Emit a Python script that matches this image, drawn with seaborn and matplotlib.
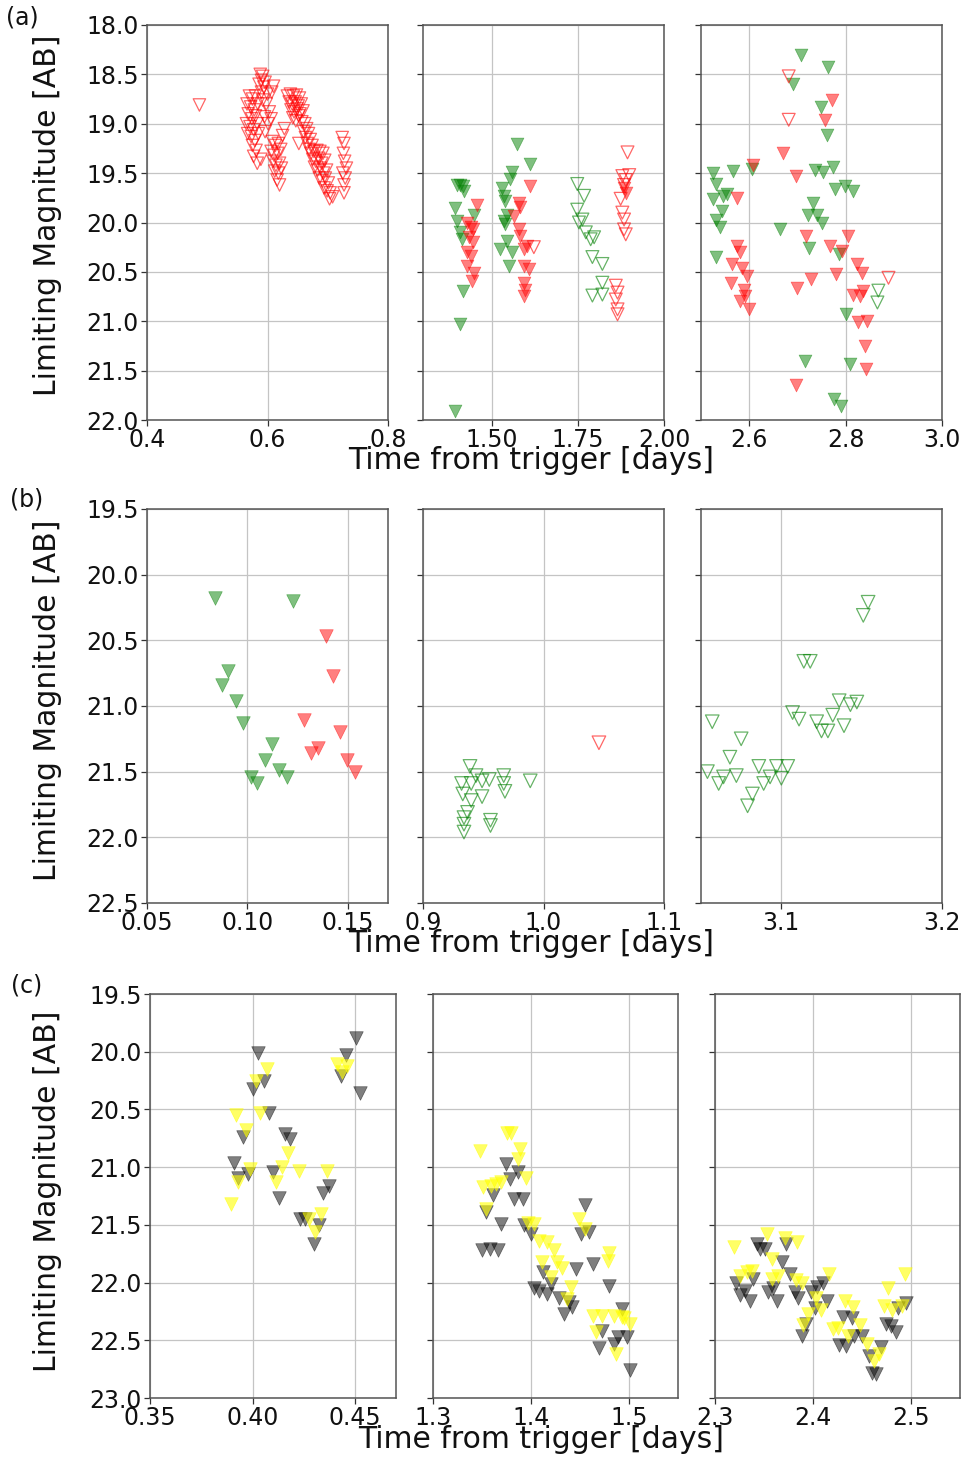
import matplotlib
matplotlib.use("Agg")
import matplotlib.pyplot as plt
import seaborn as sns

# ---------------- Row (a) ----------------
# panel a1 : open red limits
a1_red_open_t = [0.487,
                 0.588, 0.592, 0.590, 0.586, 0.594, 0.590, 0.596,
                 0.570, 0.575, 0.580, 0.566, 0.572, 0.578, 0.584, 0.568, 0.574, 0.580, 0.565, 0.571,
                 0.577, 0.583, 0.567, 0.573, 0.579, 0.585, 0.575, 0.581, 0.577, 0.583, 0.589,
                 0.592, 0.598, 0.600, 0.603, 0.595, 0.601, 0.606, 0.596, 0.610, 0.607,
                 0.608, 0.613, 0.618, 0.606, 0.611, 0.617, 0.622, 0.609, 0.614, 0.620, 0.612, 0.618,
                 0.623, 0.616, 0.620, 0.625, 0.628,
                 0.633, 0.638, 0.643, 0.648, 0.653, 0.636, 0.641, 0.646, 0.651, 0.656, 0.639, 0.644,
                 0.649, 0.654, 0.659, 0.642, 0.647, 0.652,
                 0.657, 0.662, 0.665, 0.660, 0.668, 0.663, 0.671, 0.666, 0.674, 0.669, 0.652,
                 0.672, 0.677, 0.682, 0.687, 0.692, 0.675, 0.680, 0.685, 0.690, 0.695, 0.678, 0.683,
                 0.688, 0.693, 0.698, 0.686, 0.691, 0.696, 0.701, 0.694, 0.699, 0.704, 0.708, 0.703,
                 0.724, 0.727, 0.726, 0.728, 0.731, 0.725, 0.729, 0.727, 0.727]
a1_red_open_m = [18.81,
                 18.50, 18.52, 18.56, 18.60, 18.63, 18.68, 18.58,
                 18.72, 18.75, 18.72, 18.80, 18.83, 18.86, 18.80, 18.90, 18.95, 18.92, 19.00, 19.03,
                 19.06, 19.00, 19.10, 19.13, 19.17, 19.10, 19.22, 19.27, 19.33, 19.40, 19.36,
                 18.76, 18.80, 18.70, 18.88, 18.93, 19.00, 18.95, 19.08, 18.62, 18.68,
                 19.18, 19.22, 19.20, 19.28, 19.32, 19.30, 19.26, 19.38, 19.42, 19.40, 19.48, 19.50,
                 19.45, 19.57, 19.62, 19.12, 19.05,
                 18.72, 18.70, 18.72, 18.71, 18.74, 18.78, 18.80, 18.78, 18.82, 18.80, 18.86, 18.88,
                 18.85, 18.90, 18.87, 18.94, 18.97, 18.92,
                 18.98, 19.00, 19.05, 19.08, 19.10, 19.14, 19.16, 19.20, 19.22, 19.26, 19.20,
                 19.30, 19.28, 19.27, 19.28, 19.30, 19.36, 19.38, 19.35, 19.40, 19.37, 19.44, 19.47,
                 19.45, 19.50, 19.47, 19.55, 19.58, 19.55, 19.60, 19.65, 19.68, 19.70, 19.74, 19.76,
                 19.14, 19.20, 19.30, 19.38, 19.45, 19.50, 19.55, 19.62, 19.70]

# panel a2
a2_green_fill_t = [1.398, 1.408, 1.417, 1.418, 1.393, 1.398, 1.447, 1.408, 1.412, 1.417, 1.408, 1.393,
                   1.529, 1.534, 1.539, 1.553, 1.558, 1.573, 1.612, 1.534, 1.539, 1.544, 1.544,
                   1.524, 1.558, 1.549]
a2_green_fill_m = [19.62, 19.62, 19.63, 19.68, 19.85, 19.98, 19.92, 20.10, 20.17, 20.69, 21.03, 21.91,
                   19.65, 19.73, 19.78, 19.56, 19.49, 19.21, 19.41, 19.98, 20.02, 19.92, 20.19,
                   20.27, 20.30, 20.44]
a2_red_fill_t = [1.456, 1.427, 1.440, 1.445, 1.435, 1.445, 1.427, 1.440, 1.427, 1.447, 1.442,
                 1.578, 1.583, 1.563, 1.578, 1.583, 1.602, 1.592, 1.592, 1.607, 1.592, 1.597, 1.592,
                 1.612, 1.884, 1.889]
a2_red_fill_m = [19.82, 20.00, 20.05, 20.07, 20.15, 20.20, 20.30, 20.34, 20.44, 20.51, 20.59,
                 19.80, 19.84, 19.93, 20.07, 20.14, 20.24, 20.27, 20.44, 20.47, 20.61, 20.68, 20.74,
                 19.63, 19.65, 19.70]
a2_red_open_t = [1.622, 1.894, 1.879, 1.889, 1.899, 1.884, 1.874, 1.879, 1.884, 1.884, 1.889,
                 1.860, 1.865, 1.860, 1.865, 1.865]
a2_red_open_m = [20.25, 19.29, 19.53, 19.57, 19.52, 19.62, 19.76, 19.90, 19.97, 20.07, 20.12,
                 20.64, 20.71, 20.78, 20.88, 20.93]
a2_green_open_t = [1.748, 1.768, 1.748, 1.763, 1.753, 1.773, 1.797, 1.787, 1.792, 1.821, 1.821,
                   1.792, 1.821]
a2_green_open_m = [19.61, 19.73, 19.87, 19.97, 20.00, 20.10, 20.15, 20.17, 20.35, 20.42, 20.61,
                   20.74, 20.73]

# panel a3
a3_green_fill_t = [2.707, 2.764, 2.690, 2.749, 2.761, 2.525, 2.531, 2.567, 2.605, 2.525, 2.546, 2.553,
                   2.543, 2.532, 2.539, 2.532, 2.664, 2.736, 2.754, 2.774, 2.778, 2.799, 2.816,
                   2.733, 2.723, 2.740, 2.752, 2.724, 2.786, 2.801, 2.716, 2.810, 2.776, 2.790]
a3_green_fill_m = [18.30, 18.43, 18.60, 18.83, 19.11, 19.50, 19.61, 19.48, 19.46, 19.76, 19.73, 19.71,
                   19.88, 19.97, 20.05, 20.35, 20.07, 19.47, 19.49, 19.44, 19.66, 19.63, 19.68,
                   19.80, 19.92, 19.92, 20.00, 20.26, 20.32, 20.93, 21.40, 21.43, 21.79, 21.86]
a3_red_fill_t = [2.771, 2.757, 2.671, 2.698, 2.608, 2.574, 2.574, 2.581, 2.564, 2.585, 2.596, 2.563,
                 2.589, 2.592, 2.581, 2.600, 2.718, 2.700, 2.729, 2.767, 2.781, 2.792, 2.806,
                 2.823, 2.833, 2.816, 2.830, 2.837, 2.826, 2.844, 2.840, 2.842, 2.697]
a3_red_fill_m = [18.76, 18.96, 19.30, 19.53, 19.42, 19.75, 20.24, 20.30, 20.42, 20.46, 20.54, 20.61,
                 20.68, 20.74, 20.79, 20.88, 20.14, 20.66, 20.57, 20.24, 20.52, 20.29, 20.14,
                 20.42, 20.51, 20.73, 20.74, 20.69, 21.01, 21.00, 21.25, 21.48, 21.65]
a3_red_open_t = [2.682, 2.682, 2.889]
a3_red_open_m = [18.52, 18.96, 20.56]
a3_green_open_t = [2.868, 2.866]
a3_green_open_m = [20.69, 20.81]

# ---------------- Row (b) ----------------
b1_green_fill_t = [0.0837, 0.1228, 0.0905, 0.0872, 0.0942, 0.0978, 0.1122, 0.1087, 0.1017, 0.1050,
                   0.1158, 0.1195]
b1_green_fill_m = [20.18, 20.20, 20.73, 20.84, 20.96, 21.13, 21.29, 21.41, 21.54, 21.59, 21.49, 21.54]
b1_red_fill_t = [0.1392, 0.1425, 0.1280, 0.1462, 0.1317, 0.1353, 0.1497, 0.1537]
b1_red_fill_m = [20.47, 20.77, 21.11, 21.20, 21.36, 21.32, 21.41, 21.50]

b2_green_open_t = [0.939, 0.944, 0.932, 0.933, 0.940, 0.949, 0.955, 0.967, 0.967, 0.968, 0.949, 0.940,
                   0.937, 0.934, 0.934, 0.934, 0.956, 0.956, 0.989]
b2_green_open_m = [21.46, 21.53, 21.59, 21.67, 21.59, 21.57, 21.56, 21.53, 21.59, 21.65, 21.69, 21.72,
                   21.81, 21.85, 21.90, 21.96, 21.87, 21.91, 21.57]
b2_red_open_t = [1.046]
b2_red_open_m = [21.28]

b3_green_open_t = [3.154, 3.151, 3.114, 3.118, 3.107, 3.111, 3.136, 3.143, 3.147, 3.132, 3.122, 3.125,
                   3.129, 3.139, 3.057, 3.075, 3.068, 3.054, 3.061, 3.064, 3.072, 3.086, 3.089, 3.093,
                   3.097, 3.104, 3.100, 3.082, 3.079]
b3_green_open_m = [20.21, 20.31, 20.66, 20.66, 21.05, 21.10, 20.96, 20.99, 20.97, 21.07, 21.12, 21.19,
                   21.19, 21.15, 21.12, 21.25, 21.39, 21.50, 21.59, 21.54, 21.53, 21.46, 21.59, 21.54,
                   21.46, 21.46, 21.55, 21.67, 21.76]

# ---------------- Row (c) ----------------
c1_black_t = [0.4028, 0.4000, 0.4056, 0.4080, 0.3954, 0.4159, 0.4184, 0.3908, 0.3929, 0.3979, 0.4102,
              0.4131, 0.4233, 0.4257, 0.4326, 0.4298, 0.4344, 0.4372, 0.4503, 0.4454, 0.4430, 0.4523]
c1_black_m = [20.01, 20.32, 20.25, 20.53, 20.74, 20.71, 20.76, 20.96, 21.09, 21.06, 21.04,
              21.27, 21.45, 21.45, 21.50, 21.67, 21.22, 21.16, 19.88, 20.03, 20.21, 20.36]
c1_yellow_t = [0.4069, 0.4016, 0.3918, 0.3967, 0.4039, 0.4172, 0.3987, 0.4143, 0.4115, 0.3931, 0.3897,
               0.4228, 0.4364, 0.4277, 0.4336, 0.4307, 0.4413, 0.4462, 0.4438]
c1_yellow_m = [20.15, 20.25, 20.55, 20.68, 20.53, 20.88, 21.02, 21.00, 21.13, 21.13, 21.32,
               21.03, 21.03, 21.45, 21.41, 21.56, 20.11, 20.12, 20.18]

c2_black_t = [1.3747, 1.3781, 1.3865, 1.3825, 1.3916, 1.3613, 1.3545, 1.3697, 1.3495, 1.3579, 1.3663,
              1.3933, 1.4000, 1.4125, 1.4034, 1.4084, 1.4168, 1.4209, 1.4286, 1.4337, 1.4387, 1.4421,
              1.4461, 1.4549, 1.4512, 1.4589, 1.4633, 1.4801, 1.4724, 1.4690, 1.4842, 1.4886, 1.4933,
              1.4976, 1.5010]
c2_black_m = [20.97, 21.10, 21.04, 21.28, 21.28, 21.24, 21.39, 21.49, 21.72, 21.71, 21.72,
              21.50, 21.58, 21.91, 22.05, 22.07, 22.10, 22.01, 22.13, 22.27, 22.17, 22.21,
              21.88, 21.33, 21.58, 21.56, 21.84, 22.03, 22.42, 22.57, 22.53, 22.47, 22.23,
              22.47, 22.76]
c2_yellow_t = [1.3478, 1.3791, 1.3760, 1.3892, 1.3865, 1.3949, 1.3512, 1.3596, 1.3697, 1.3640, 1.3545,
               1.3966, 1.4034, 1.4084, 1.4162, 1.4236, 1.4108, 1.4263, 1.4320, 1.4202, 1.4404, 1.4370,
               1.4488, 1.4556, 1.4791, 1.4781, 1.4633, 1.4724, 1.4842, 1.4926, 1.5010, 1.4663, 1.4869,
               1.4949]
c2_yellow_m = [20.86, 20.70, 20.70, 20.84, 20.93, 21.09, 21.17, 21.16, 21.13, 21.15, 21.36,
               21.48, 21.49, 21.64, 21.65, 21.72, 21.82, 21.82, 21.87, 21.95, 22.04, 22.14,
               21.45, 21.54, 21.74, 21.81, 22.29, 22.29, 22.29, 22.30, 22.36, 22.43, 22.62,
               22.31]

c3_black_t = [2.3428, 2.3461, 2.3512, 2.3724, 2.3680, 2.3219, 2.3253, 2.3310, 2.3354, 2.3387, 2.3545,
              2.3589, 2.3636, 2.3764, 2.3815, 2.3848, 2.3976, 2.4044, 2.4101, 2.4141, 2.4017, 2.3933,
              2.3892, 2.4310, 2.4397, 2.4421, 2.4505, 2.4263, 2.4337, 2.4572, 2.4690, 2.4606, 2.4640,
              2.4747, 2.4801, 2.4842, 2.4869, 2.4949]
c3_black_m = [21.67, 21.71, 21.71, 21.67, 21.82, 22.00, 22.11, 22.07, 22.16, 21.97, 22.08,
              22.05, 22.16, 21.93, 22.08, 22.13, 22.08, 22.04, 22.00, 22.16, 22.22, 22.36,
              22.46, 22.30, 22.31, 22.46, 22.46, 22.54, 22.55, 22.64, 22.56, 22.78, 22.79,
              22.36, 22.38, 22.43, 22.22, 22.18]
c3_yellow_t = [2.3192, 2.3529, 2.3717, 2.3838, 2.3579, 2.3253, 2.3327, 2.3377, 2.3579, 2.3646, 2.3831,
               2.3892, 2.4168, 2.4034, 2.4084, 2.3950, 2.3899, 2.4202, 2.4330, 2.4411, 2.4478, 2.4253,
               2.4354, 2.4556, 2.4623, 2.4673, 2.4768, 2.4724, 2.4808, 2.4943, 2.4909]
c3_yellow_m = [21.69, 21.58, 21.61, 21.65, 21.80, 21.94, 21.91, 21.90, 21.97, 21.94, 21.98,
               22.00, 21.93, 22.13, 22.24, 22.27, 22.37, 22.40, 22.16, 22.21, 22.37, 22.39,
               22.46, 22.53, 22.68, 22.62, 22.05, 22.20, 22.24, 21.93, 22.20]

# ---------------- axis settings ----------------
row_a_ylim = (18.0, 22.0)
row_b_ylim = (19.5, 22.5)
row_c_ylim = (19.5, 23.0)

a_xlims = [(0.4, 0.8), (1.3, 2.0), (2.5, 3.0)]
a_xticks = [[0.4, 0.6, 0.8], [1.50, 1.75, 2.00], [2.6, 2.8, 3.0]]
a_xfmt = ["{:.1f}", "{:.2f}", "{:.1f}"]
b_xlims = [(0.05, 0.17), (0.9, 1.1), (3.05, 3.2)]
b_xticks = [[0.05, 0.10, 0.15], [0.9, 1.0, 1.1], [3.1, 3.2]]
b_xfmt = ["{:.2f}", "{:.1f}", "{:.1f}"]
c_xlims = [(0.35, 0.47), (1.3, 1.55), (2.3, 2.55)]
c_xticks = [[0.35, 0.40, 0.45], [1.3, 1.4, 1.5], [2.3, 2.4, 2.5]]
c_xfmt = ["{:.2f}", "{:.1f}", "{:.1f}"]

GREEN = "#008000"
RED = "#ff0000"
BLACK = "#000000"
YELLOW = "#ffff00"

sns.set_style("ticks", {"axes.grid": True, "grid.color": "#c4c4c4",
                        "axes.edgecolor": "#333333"})
plt.rcParams["font.family"] = ["DejaVu Sans"]

W, H = 964, 1460
fig = plt.figure(figsize=(W / 100, H / 100), dpi=100)


def add_panel(left, top, right, bottom):
    return fig.add_axes([left / W, 1 - bottom / H, (right - left) / W, (bottom - top) / H])


def filled(ax, t, m, color, alpha, s=85):
    sns.scatterplot(x=t, y=m, ax=ax, marker="v", s=s, color=color, alpha=alpha,
                    edgecolor=color, linewidth=0.5)


def hollow(ax, t, m, color, alpha, s=85):
    sns.scatterplot(x=t, y=m, ax=ax, marker="v", s=s, color=color, facecolor="none",
                    edgecolor=color, alpha=alpha, linewidth=0.9)


def style(ax, xlim, xticks, xfmt, ylim, first):
    ax.set_xlim(*xlim)
    ax.set_xticks(xticks)
    ax.set_xticklabels([xfmt.format(v) for v in xticks])
    ax.set_ylim(ylim[1], ylim[0])
    yt = [ylim[0] + 0.5 * i for i in range(int(round((ylim[1] - ylim[0]) / 0.5)) + 1)]
    ax.set_yticks(yt)
    if first:
        ax.set_yticklabels(["{:.1f}".format(v) for v in yt])
    else:
        ax.set_yticklabels([])
    ax.set_xlabel("")
    ax.set_ylabel("")
    ax.grid(True, color="#c4c4c4", linewidth=0.9)
    ax.set_axisbelow(True)
    ax.tick_params(axis="both", labelsize=17, length=4, width=0.9, pad=2,
                   colors="#333333", labelcolor="#111111")
    for sp in ax.spines.values():
        sp.set_linewidth(1.1)
        sp.set_color("#555555")


# row (a)
a_boxes = [(147, 25, 388, 420), (423, 25, 664, 420), (701, 25, 942, 420)]
axa = [add_panel(*b) for b in a_boxes]
hollow(axa[0], a1_red_open_t, a1_red_open_m, RED, 0.6, s=80)
filled(axa[1], a2_green_fill_t, a2_green_fill_m, GREEN, 0.5)
filled(axa[1], a2_red_fill_t, a2_red_fill_m, RED, 0.5)
hollow(axa[1], a2_red_open_t, a2_red_open_m, RED, 0.6)
hollow(axa[1], a2_green_open_t, a2_green_open_m, GREEN, 0.6)
filled(axa[2], a3_green_fill_t, a3_green_fill_m, GREEN, 0.5)
filled(axa[2], a3_red_fill_t, a3_red_fill_m, RED, 0.5)
hollow(axa[2], a3_red_open_t, a3_red_open_m, RED, 0.6)
hollow(axa[2], a3_green_open_t, a3_green_open_m, GREEN, 0.6)
for i, ax in enumerate(axa):
    style(ax, a_xlims[i], a_xticks[i], a_xfmt[i], row_a_ylim, i == 0)

# row (b)
b_boxes = [(147, 509, 388, 903), (423, 509, 664, 903), (701, 509, 942, 903)]
axb = [add_panel(*b) for b in b_boxes]
filled(axb[0], b1_green_fill_t, b1_green_fill_m, GREEN, 0.5, s=95)
filled(axb[0], b1_red_fill_t, b1_red_fill_m, RED, 0.5, s=95)
hollow(axb[1], b2_green_open_t, b2_green_open_m, GREEN, 0.6, s=95)
hollow(axb[1], b2_red_open_t, b2_red_open_m, RED, 0.6, s=95)
hollow(axb[2], b3_green_open_t, b3_green_open_m, GREEN, 0.6, s=95)
for i, ax in enumerate(axb):
    style(ax, b_xlims[i], b_xticks[i], b_xfmt[i], row_b_ylim, i == 0)

# row (c)
c_boxes = [(150, 994, 396, 1398), (433, 994, 678, 1398), (715, 994, 960, 1398)]
axc = [add_panel(*b) for b in c_boxes]
for ax, (bt, bm, yt, ym) in zip(axc, [(c1_black_t, c1_black_m, c1_yellow_t, c1_yellow_m),
                                       (c2_black_t, c2_black_m, c2_yellow_t, c2_yellow_m),
                                       (c3_black_t, c3_black_m, c3_yellow_t, c3_yellow_m)]):
    filled(ax, bt, bm, BLACK, 0.5, s=95)
    filled(ax, yt, ym, YELLOW, 0.6, s=95)
for i, ax in enumerate(axc):
    style(ax, c_xlims[i], c_xticks[i], c_xfmt[i], row_c_ylim, i == 0)

# shared labels
for yc in (215, 700, 1191):
    fig.text(48 / W, 1 - yc / H, "Limiting Magnitude [AB]", rotation=90,
             ha="center", va="center", fontsize=21.5, color="#111111")
for xc, yc in ((531, 461), (531, 944), (541, 1439)):
    fig.text(xc / W, 1 - yc / H, "Time from trigger [days]",
             ha="center", va="center", fontsize=21.5, color="#111111")
for lab, (xc, yc) in (("(a)", (22, 17)), ("(b)", (27, 500)), ("(c)", (27, 985))):
    fig.text(xc / W, 1 - yc / H, lab, ha="center", va="center", fontsize=17, color="#111111")

fig.savefig("out.png", dpi=100)
